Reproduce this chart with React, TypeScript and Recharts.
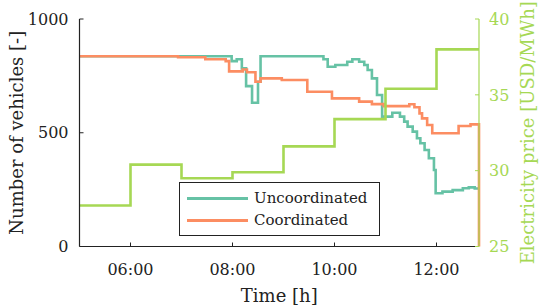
import { LineChart, Line, XAxis, YAxis, Legend } from 'recharts';

// vehicles connected over the morning, one point per step change
const uncoordTimes = [
  '05:00', '07:59', '08:05', '08:11', '08:16', '08:23', '08:30', '08:33',
  '09:47', '09:52', '10:01', '10:15', '10:21', '10:29', '10:35', '10:39', '10:44', '10:50', '10:56',
  '11:08', '11:17', '11:22', '11:26', '11:32', '11:37', '11:41', '11:46', '11:51', '11:57', '11:59',
  '12:07', '12:19', '12:31', '12:38', '12:45', '12:50',
];
const uncoordVehicles = [
  836, 815, 823, 783, 705, 632, 724, 836,
  823, 790, 798, 812, 823, 812, 798, 776, 739, 666, 571,
  588, 571, 549, 527, 505, 476, 454, 424, 388, 336, 234,
  241, 248, 256, 260, 255, 255,
];

const coordTimes = [
  '05:00', '06:56', '07:28', '07:52', '07:56', '08:12', '08:17', '08:27', '08:33', '08:58',
  '09:28', '09:57', '10:29', '10:44', '10:58', '11:28', '11:34', '11:40', '11:43', '11:49',
  '11:55', '12:26', '12:40', '12:50',
];
const coordVehicles = [
  836, 832, 823, 815, 770, 778, 766, 724, 739, 732,
  680, 651, 637, 626, 617, 625, 612, 585, 563, 534,
  498, 530, 537, 0,
];

const priceTimes = ['05:00', '06:00', '07:00', '08:00', '09:00', '10:00', '11:00', '12:00', '12:50'];
const priceUsdMwh = [27.7, 30.4, 29.5, 29.9, 31.6, 33.4, 35.4, 38.0, 38.0];

const legendOrder = ['Uncoordinated', 'Coordinated'];
const timeTicks = [6, 8, 10, 12];
const vehicleTicks = [0, 500, 1000];
const priceTicks = [25, 30, 35, 40];

const toHours = (s: string) => {
  const [h, m] = s.split(':').map(Number);
  return h + m / 60;
};
const steps = (times: string[], values: number[]) =>
  times.map((t, i) => ({ t: toHours(t), v: values[i] }));

const FONT = 'DejaVu Serif';
const INK = '#222';
const GREEN = '#a6d854';
const TEAL = '#66c2a5';
const ORANGE = '#fc8d62';

function LegendBox(props: any) {
  const items = (props.payload || [])
    .filter((p: any) => legendOrder.includes(p.value))
    .sort((a: any, b: any) => legendOrder.indexOf(a.value) - legendOrder.indexOf(b.value));
  return (
    <div
      style={{
        border: `1px solid ${INK}`,
        background: '#fff',
        padding: '4px 7px',
        fontFamily: FONT,
        fontSize: 15,
        color: INK,
        lineHeight: '22px',
      }}
    >
      {items.map((p: any) => (
        <div key={p.value} style={{ display: 'flex', alignItems: 'center', height: 22 }}>
          <span style={{ display: 'inline-block', width: 61, height: 3, background: p.color, marginRight: 6 }} />
          <span>{p.value}</span>
        </div>
      ))}
    </div>
  );
}

export default function App() {
  return (
    <div style={{ position: 'absolute', left: 0, top: 0 }}>
      <LineChart width={540} height={307} margin={{ top: 19, right: 0, bottom: 0, left: 0 }}>
        <XAxis
          type="number"
          dataKey="t"
          domain={[5, 12 + 50 / 60]}
          ticks={timeTicks}
          tickFormatter={(h: number) => `${String(h).padStart(2, '0')}:00`}
          height={60.5}
          tickSize={-4}
          tickMargin={21}
          tick={{ fill: INK, fontSize: 16, fontFamily: FONT }}
          tickLine={{ stroke: INK }}
          axisLine={{ stroke: INK, strokeWidth: 1.2 }}
          label={{
            value: 'Time [h]',
            position: 'insideBottom',
            offset: 5,
            style: { fill: INK, fontSize: 18, fontFamily: FONT },
          }}
        />
        <YAxis
          yAxisId="veh"
          domain={[0, 1000]}
          ticks={vehicleTicks}
          width={79.5}
          tickSize={-4}
          tickMargin={15}
          tick={{ fill: INK, fontSize: 16, fontFamily: FONT }}
          tickLine={{ stroke: INK }}
          axisLine={{ stroke: INK, strokeWidth: 1.2 }}
          label={{
            value: 'Number of vehicles [-]',
            angle: -90,
            position: 'insideLeft',
            offset: 16.5,
            style: { textAnchor: 'middle', fill: INK, fontSize: 18, fontFamily: FONT },
          }}
        />
        <YAxis
          yAxisId="price"
          orientation="right"
          domain={[25, 40]}
          ticks={priceTicks}
          width={61}
          tickSize={-4}
          tickMargin={14}
          tick={{ fill: GREEN, fontSize: 16, fontFamily: FONT }}
          tickLine={{ stroke: GREEN }}
          axisLine={{ stroke: GREEN, strokeWidth: 1.2 }}
          label={{
            value: 'Electricity price [USD/MWh]',
            angle: -90,
            position: 'insideRight',
            offset: 12.4,
            style: { textAnchor: 'middle', fill: GREEN, fontSize: 18, fontFamily: FONT },
          }}
        />
        <Legend
          layout="vertical"
          align="center"
          verticalAlign="middle"
          wrapperStyle={{ left: 179, top: 182, width: 201 }}
          content={LegendBox}
        />
        <Line
          yAxisId="veh"
          type="stepAfter"
          data={steps(uncoordTimes, uncoordVehicles)}
          dataKey="v"
          name="Uncoordinated"
          stroke={TEAL}
          strokeWidth={2.6}
          dot={false}
          isAnimationActive={false}
        />
        <Line
          yAxisId="veh"
          type="stepAfter"
          data={steps(coordTimes, coordVehicles)}
          dataKey="v"
          name="Coordinated"
          stroke={ORANGE}
          strokeWidth={2.6}
          dot={false}
          isAnimationActive={false}
        />
        <Line
          yAxisId="price"
          type="stepAfter"
          data={steps(priceTimes, priceUsdMwh)}
          dataKey="v"
          name="Electricity price"
          stroke={GREEN}
          strokeWidth={2.6}
          dot={false}
          legendType="none"
          isAnimationActive={false}
        />
      </LineChart>
    </div>
  );
}
